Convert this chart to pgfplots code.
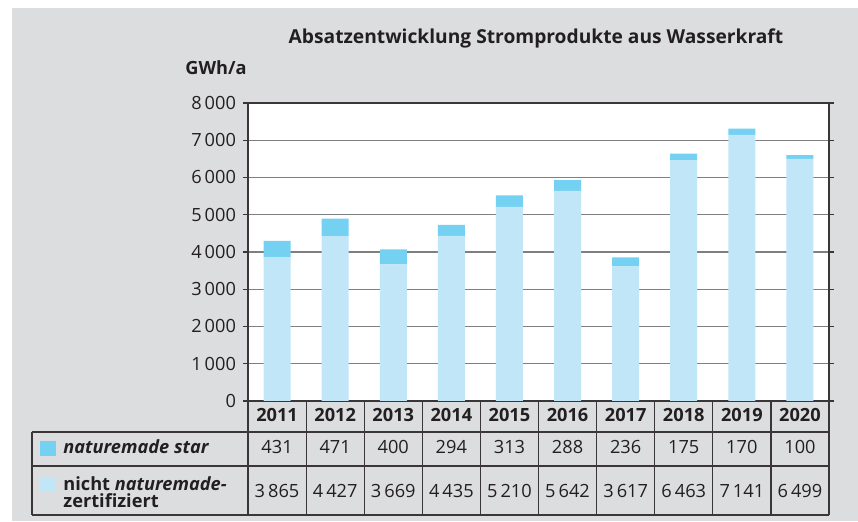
\documentclass[border=0pt]{standalone}
\usepackage{pgfplots}
\pgfplotsset{compat=1.18}
\usepackage{pgfplotstable}
\usepackage{fontspec}
\setmainfont{Open Sans}
\definecolor{bg}{HTML}{DCDDDF}
\definecolor{light}{HTML}{C1E6F8}
\definecolor{cyanb}{HTML}{74D1F2}
\definecolor{txt}{HTML}{231F20}
\definecolor{gridc}{HTML}{7F7F7F}
\definecolor{linec}{HTML}{3A3536}
\newcommand\fs{\fontsize{9.1}{10.8}\selectfont}
\pgfplotstableread{
x nicht star
0 3865 431
1 4427 471
2 3669 400
3 4435 294
4 5210 313
5 5642 288
6 3617 236
7 6463 175
8 7141 170
9 6499 100
}\data
\begin{document}
\begin{tikzpicture}[every node/.style={text=txt}]
\begin{scope}[x=0.5pt,y=0.5pt]
\fill[white] (0,0) rectangle (858,522);
\fill[bg] (12,1) rectangle (858,514);
\end{scope}
\begin{axis}[
  at={(124pt,60.5pt)}, anchor=south west,
  scale only axis, width=290.5pt, height=149pt,
  xmin=-0.5, xmax=9.5, ymin=0, ymax=8000,
  axis background/.style={fill=white},
  ybar stacked, bar width=13.5pt,
  xtick=\empty,
  ytick={0,1000,...,8000},
  ymajorgrids, grid style={gridc, line width=0.7pt},
  axis line style={linec, line width=0.6pt},
  tick align=outside, major tick length=2.5pt,
  ytick style={linec, line width=0.6pt},
  /pgf/number format/assume math mode=true,
  /pgf/number format/1000 sep={\,},
  yticklabel style={font=\fs, text=txt},
  scaled y ticks=false,
  clip=false,
]
\addplot[fill=light, draw=none] table[x=x,y=nicht]{\data};
\addplot[fill=cyanb, draw=none] table[x=x,y=star]{\data};
\end{axis}
\begin{scope}[x=0.5pt,y=0.5pt]
% title and unit
\node[anchor=base, font=\fontsize{9.6}{11.5}\selectfont\bfseries, inner sep=0] at (536,478) {Absatzentwicklung Stromprodukte aus Wasserkraft};
\node[anchor=base west, font=\fs\bfseries, inner sep=0] at (185,447) {GWh/a};
% table lines
\begin{scope}[linec, line width=0.6pt]
\draw (32,90) -- (829,90);
\draw (32,56) -- (829,56);
\draw (32,7) -- (829,7);
\draw (32,90) -- (32,7);
\foreach \k in {0,...,10} {\draw (248+58.1*\k,121) -- (248+58.1*\k,7);}
\end{scope}
% years
\foreach \y [count=\i from 0] in {2011,2012,2013,2014,2015,2016,2017,2018,2019,2020}
  {\node[anchor=base, font=\fs\bfseries, inner sep=0] at (248+58.1*\i+29.05,100) {\y};}
\foreach \v [count=\i from 0] in {431,471,400,294,313,288,236,175,170,100}
  {\node[anchor=base, font=\fs, inner sep=0] at (248+58.1*\i+29.05,68) {\v};}
\foreach \v [count=\i from 0] in {3\,865,4\,427,3\,669,4\,435,5\,210,5\,642,3\,617,6\,463,7\,141,6\,499}
  {\node[anchor=base, font=\fs, inner sep=0] at (248+58.1*\i+29.05,24) {\v};}
% legend
\fill[cyanb] (40,66) rectangle (56,81);
\fill[light] (40,31) rectangle (56,45);
\node[anchor=base west, font=\fs\bfseries, inner sep=0] at (63,68) {\itshape naturemade star};
\node[anchor=base west, font=\fs\bfseries, inner sep=0] at (63,31) {nicht \textit{naturemade-}};
\node[anchor=base west, font=\fs\bfseries, inner sep=0] at (63,14) {zertifiziert};
\end{scope}
\end{tikzpicture}
\end{document}
